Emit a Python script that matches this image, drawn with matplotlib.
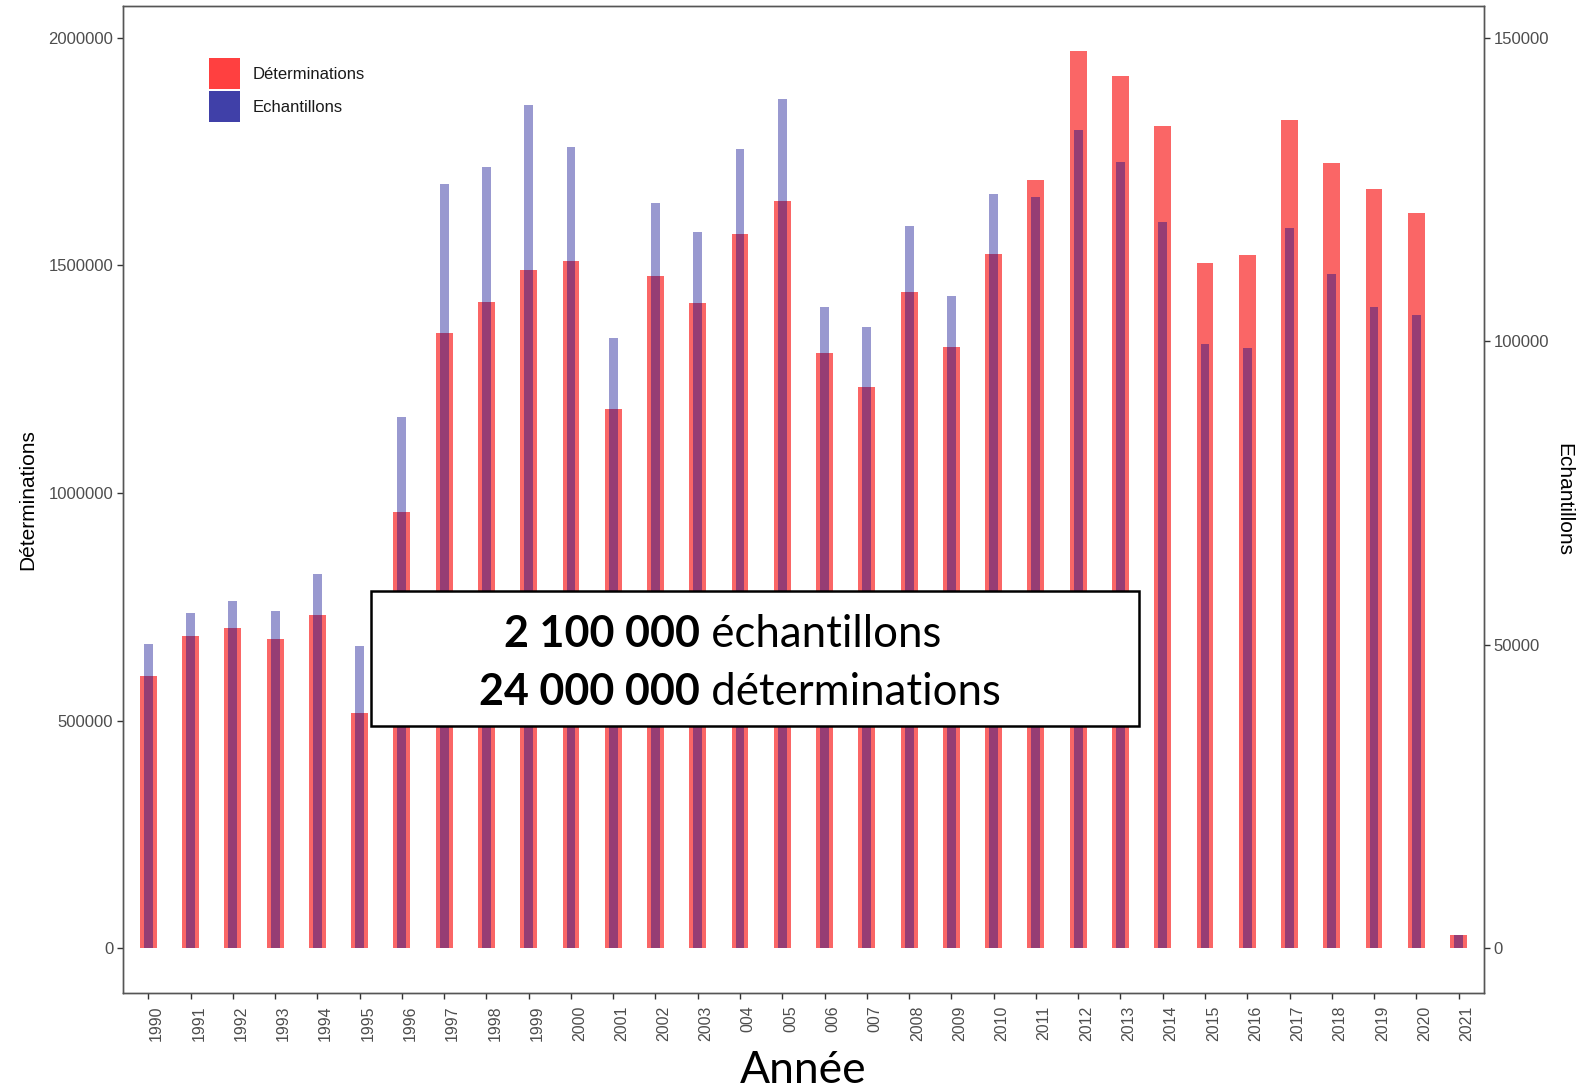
import matplotlib
matplotlib.use("Agg")

import matplotlib.pyplot as plt
import numpy as np
from matplotlib.patches import Patch, Rectangle
from matplotlib.transforms import ScaledTranslation

# Données
annees = ["1990", "1991", "1992", "1993", "1994", "1995", "1996", "1997",
          "1998", "1999", "2000", "2001", "2002", "2003", "004", "005",
          "006", "007", "2008", "2009", "2010", "2011", "2012", "2013",
          "2014", "2015", "2016", "2017", "2018", "2019", "2020", "2021"]

determinations = [599000, 685000, 703000, 680000, 732000, 517000, 958000, 1352000,
                  1419000, 1489000, 1510000, 1185000, 1476000, 1418000, 1568000, 1641000,
                  1307000, 1232000, 1441000, 1320000, 1526000, 1688000, 1971500, 1916000,
                  1806000, 1505000, 1523000, 1819000, 1726000, 1669000, 1616000, 28600]

echantillons = [50200, 55300, 57200, 55600, 61600, 49800, 87500, 125900,
                128700, 139000, 132100, 100600, 122800, 118000, 131700, 140000,
                105700, 102400, 119000, 107500, 124300, 123700, 134800, 129600,
                119600, 99600, 98900, 118600, 111100, 105600, 104300, 2140]

ratio = 0.075   # échelle secondaire : echantillons = determinations * 0.075

FONT = "Liberation Sans"
BIG_FONT = "Lato"
GRIS = "#4D4D4D"

fig = plt.figure(figsize=(15.8, 10.88), dpi=100)
ax = fig.add_axes([0.0778, 0.0873, 0.8614, 0.9072])
ax2 = ax.twinx()

x = np.arange(len(annees))
ax.bar(x, determinations, width=0.4, color="#F80000", alpha=0.6, linewidth=0, zorder=2)
ax2.bar(x, echantillons, width=0.21, color="#00008B", alpha=0.4, linewidth=0, zorder=3)

ymax = max(determinations)
pad = 0.05 * ymax
ax.set_ylim(-pad, ymax + pad)
ax2.set_ylim(-pad * ratio, (ymax + pad) * ratio)
ax.set_xlim(-0.6, len(annees) - 0.4)

ax.set_yticks([0, 500000, 1000000, 1500000, 2000000])
ax.set_yticklabels(["0", "500000", "1000000", "1500000", "2000000"])
ax2.set_yticks([0, 50000, 100000, 150000])
ax2.set_yticklabels(["0", "50000", "100000", "150000"])
ax.set_xticks(x)
ax.set_xticklabels(annees, rotation=90, va="top", ha="center")

for a in (ax, ax2):
    for s in a.spines.values():
        s.set_color("#555555")
        s.set_linewidth(1.0)
    a.tick_params(length=4, width=1, color="#333333", labelcolor=GRIS,
                  labelsize=12, pad=3)
    for lbl in a.get_yticklabels():
        lbl.set_fontfamily(FONT)
ax.tick_params(axis="x", pad=5, labelsize=11.5)
for lbl in ax.get_xticklabels():
    lbl.set_fontfamily(FONT)
    lbl.set_transform(lbl.get_transform() + ScaledTranslation(6 / 72, 0, fig.dpi_scale_trans))

ax.set_ylabel("Déterminations", fontsize=15, family=FONT, color="black",
              va="center", ha="center")
ax.yaxis.set_label_coords(-0.0698, 0.5)
ax2.set_ylabel("Echantillons", fontsize=15, family=FONT, color="black",
               rotation=-90, va="center", ha="center")
ax2.yaxis.set_label_coords(1.0585, 0.5)

ax.set_xlabel("Année", fontsize=32, family=BIG_FONT, color="black", va="baseline")
ax.xaxis.set_label_coords(0.5, -0.0912)

# Légende (carrés plus hauts que le texte, comme ggplot)
handles = [Patch(facecolor="#FF0000", alpha=0.75, linewidth=0, label="Déterminations"),
           Patch(facecolor="#00008B", alpha=0.75, linewidth=0, label="Echantillons")]
leg = ax2.legend(handles=handles, loc="upper left", bbox_to_anchor=(0.0632, 0.9468),
                 frameon=False, borderpad=0, borderaxespad=0,
                 handlelength=1.85, handleheight=2.48, labelspacing=0.12,
                 handletextpad=0.8, prop={"family": FONT, "size": 12})
for t in leg.get_texts():
    t.set_color("#1A1A1A")

# Encadré
box = Rectangle((371 / 1580, 1 - 726 / 1088), 768 / 1580, 135 / 1088,
                transform=fig.transFigure, facecolor="white", edgecolor="black",
                linewidth=1.8, zorder=10)
fig.patches.append(box)
xa = 700 / 1580
for yb, gras, txt in [(1 - 647 / 1088, "2 100 000", " échantillons"),
                      (1 - 705 / 1088, "24 000 000", " déterminations")]:
    fig.text(xa, yb, gras, ha="right", va="baseline", fontsize=31,
             family=BIG_FONT, fontweight="bold", zorder=11)
    fig.text(xa, yb, txt, ha="left", va="baseline", fontsize=31.5,
             family=BIG_FONT, zorder=11)

fig.savefig("out.png", dpi=100)
